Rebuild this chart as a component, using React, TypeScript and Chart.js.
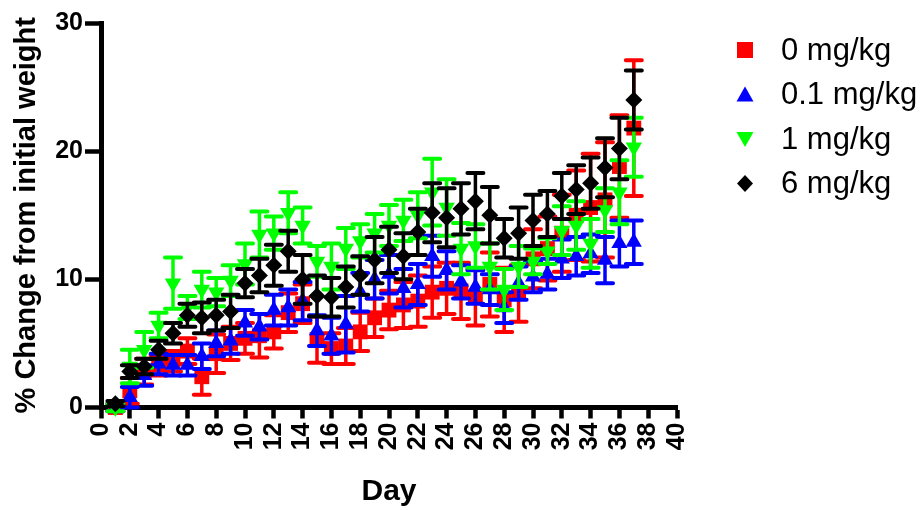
import React, { useEffect, useRef } from "react";
import { Chart, registerables } from "chart.js";

Chart.register(...registerables);

const FONT = "'Liberation Sans', Arial, Helvetica, sans-serif";

const days = [1, 2, 3, 4, 5, 6, 7, 8, 9, 10, 11, 12, 13, 14, 15, 16, 17, 18, 19, 20, 21, 22, 23, 24, 25, 26, 27, 28, 29, 30, 31, 32, 33, 34, 35, 36, 37];

const seriesNames = ["0 mg/kg", "0.1 mg/kg", "1 mg/kg", "6 mg/kg"];
const seriesColors = ["#FF0000", "#0000FF", "#00FF00", "#000000"];

const mean0 = [0.0, 1.3, 2.8, 3.3, 3.6, 4.4, 2.4, 4.2, 5.0, 5.4, 5.6, 5.9, 7.4, 8.1, 5.3, 4.6, 4.8, 5.9, 7.0, 7.6, 8.0, 8.3, 9.0, 9.3, 9.1, 8.6, 9.6, 8.4, 8.9, 11.6, 12.4, 13.6, 15.0, 15.6, 16.2, 18.8, 21.8];
const err0 = [0.3, 1.0, 1.0, 0.8, 0.8, 1.0, 1.4, 1.5, 1.3, 1.2, 1.7, 1.3, 1.5, 1.5, 1.8, 1.2, 1.4, 1.5, 1.5, 1.5, 1.8, 2.0, 2.0, 2.0, 2.2, 2.2, 2.5, 2.5, 2.2, 2.3, 2.5, 3.0, 3.5, 4.2, 4.5, 4.0, 5.3];

const mean01 = [0.0, 0.8, 2.5, 3.4, 3.3, 3.3, 4.0, 5.0, 5.2, 6.6, 6.3, 7.6, 7.8, 8.3, 6.0, 5.6, 6.5, 9.0, 10.0, 10.4, 9.3, 9.6, 11.8, 10.7, 9.8, 9.4, 9.2, 7.8, 9.7, 10.2, 10.4, 11.6, 11.8, 12.0, 11.5, 12.8, 12.9];
const err01 = [0.3, 0.8, 0.8, 0.8, 0.8, 0.8, 1.0, 1.0, 1.0, 1.0, 1.0, 1.2, 1.4, 1.5, 1.2, 1.4, 2.2, 1.5, 1.5, 1.5, 1.5, 1.6, 1.6, 1.5, 1.3, 1.3, 1.2, 1.2, 1.3, 1.2, 1.2, 1.5, 1.5, 1.5, 1.8, 1.8, 1.7];

const mean1 = [0.0, 3.2, 4.5, 6.4, 9.7, 7.8, 9.2, 9.0, 9.9, 11.2, 13.5, 13.6, 15.2, 14.2, 11.4, 11.0, 12.4, 13.0, 13.6, 14.2, 14.6, 15.0, 16.8, 15.6, 12.4, 12.6, 11.0, 9.2, 11.0, 11.4, 12.2, 13.8, 14.2, 12.8, 15.4, 16.8, 20.3];
const err1 = [0.3, 1.3, 1.4, 1.0, 2.0, 0.9, 1.4, 1.1, 1.2, 1.6, 1.8, 1.3, 1.6, 1.4, 1.2, 1.8, 1.6, 1.3, 1.5, 1.6, 1.6, 1.8, 2.6, 2.2, 2.0, 1.7, 1.8, 1.6, 1.6, 1.0, 1.0, 1.9, 1.9, 1.9, 1.7, 2.5, 2.3];

const mean6 = [0.3, 2.8, 3.2, 4.5, 5.8, 7.2, 7.0, 7.2, 7.5, 9.7, 10.3, 11.1, 12.2, 10.0, 8.7, 8.6, 9.4, 10.3, 11.5, 12.3, 11.8, 13.7, 15.2, 14.8, 15.5, 16.1, 15.0, 13.2, 13.6, 14.6, 15.1, 16.5, 17.0, 17.5, 18.7, 20.2, 24.0];
const err6 = [0.2, 0.5, 0.6, 0.7, 0.8, 0.9, 1.2, 1.2, 1.3, 1.1, 1.3, 1.6, 1.6, 1.9, 1.6, 1.5, 1.6, 1.5, 1.8, 1.8, 1.8, 1.8, 2.3, 2.3, 2.0, 2.2, 2.2, 1.5, 2.0, 2.0, 1.8, 1.8, 1.9, 2.0, 2.3, 2.4, 2.3];

const xTitle = "Day";
const yTitle = "% Change from initial weight";

const errorBarPlugin = {
  id: "errorBars",
  beforeDatasetDraw(chart: any, args: any) {
    const ds: any = chart.data.datasets[args.index];
    const errs: number[] = ds.errors;
    if (!errs) return;
    const xs = chart.scales.x;
    const ys = chart.scales.y;
    const ctx = chart.ctx;
    ctx.save();
    ctx.strokeStyle = ds.backgroundColor;
    ds.data.forEach((p: any, i: number) => {
      const px = xs.getPixelForValue(p.x);
      const top = ys.getPixelForValue(p.y + errs[i]);
      const bot = ys.getPixelForValue(p.y - errs[i]);
      ctx.lineWidth = 3.5;
      ctx.lineCap = "butt";
      ctx.beginPath();
      ctx.moveTo(px, top);
      ctx.lineTo(px, bot);
      ctx.stroke();
      ctx.lineWidth = 4;
      ctx.lineCap = "round";
      ctx.beginPath();
      ctx.moveTo(px - 8, top);
      ctx.lineTo(px + 8, top);
      ctx.moveTo(px - 8, bot);
      ctx.lineTo(px + 8, bot);
      ctx.stroke();
    });
    ctx.restore();
  },
};

function drawMarker(ctx: CanvasRenderingContext2D, kind: string, x: number, y: number) {
  ctx.beginPath();
  if (kind === "square") {
    ctx.rect(x - 8, y - 8, 16, 16);
  } else if (kind === "up") {
    ctx.moveTo(x, y - 8);
    ctx.lineTo(x + 8.5, y + 7);
    ctx.lineTo(x - 8.5, y + 7);
    ctx.closePath();
  } else if (kind === "down") {
    ctx.moveTo(x, y + 8);
    ctx.lineTo(x + 8.5, y - 7);
    ctx.lineTo(x - 8.5, y - 7);
    ctx.closePath();
  } else {
    ctx.moveTo(x, y - 8.5);
    ctx.lineTo(x + 8, y);
    ctx.lineTo(x, y + 8.5);
    ctx.lineTo(x - 8, y);
    ctx.closePath();
  }
  ctx.fill();
}

const legendKinds = ["square", "up", "down", "diamond"];

const legendPlugin = {
  id: "sideLegend",
  afterDraw(chart: any) {
    const ctx = chart.ctx;
    const area = chart.chartArea;
    const mx = area.right + 68;
    const tx = area.right + 104;
    const y0 = 50;
    const gap = 44.5;
    ctx.save();
    ctx.font = `31px ${FONT}`;
    ctx.textBaseline = "middle";
    ctx.textAlign = "left";
    seriesNames.forEach((name, i) => {
      const y = y0 + i * gap;
      ctx.fillStyle = seriesColors[i];
      drawMarker(ctx, legendKinds[i], mx, y);
      ctx.fillStyle = "#000";
      ctx.fillText(name, tx, y + 1);
    });
    ctx.restore();
  },
};

function toPoints(values: number[]) {
  return days.map((d, i) => ({ x: d, y: values[i] }));
}

export default function App() {
  const canvasRef = useRef<HTMLCanvasElement | null>(null);

  useEffect(() => {
    if (!canvasRef.current) return;
    const means = [mean0, mean01, mean1, mean6];
    const errs = [err0, err01, err1, err6];
    const styles = ["rect", "triangle", "triangle", "rectRot"];
    const radii = [10.5, 9.3, 9.5, 8.5];
    const rotations = [0, 0, 180, 0];
    const datasets: any[] = means.map((m, i) => ({
      label: seriesNames[i],
      data: toPoints(m),
      errors: errs[i],
      backgroundColor: seriesColors[i],
      borderColor: seriesColors[i],
      pointStyle: styles[i],
      pointRadius: radii[i],
      pointRotation: rotations[i],
      pointBorderWidth: 0,
      showLine: false,
      order: 4 - i,
      clip: false,
    }));

    const tickFont = { family: FONT, size: 25, weight: "bold" as const };
    const chart = new Chart(canvasRef.current, {
      type: "scatter",
      data: { datasets },
      options: {
        animation: false,
        responsive: true,
        maintainAspectRatio: false,
        events: [],
        layout: { padding: { top: 23, right: 243, left: 0, bottom: 0 } },
        plugins: {
          legend: { display: false },
          tooltip: { enabled: false },
        },
        scales: {
          x: {
            type: "linear",
            min: 0,
            max: 40,
            ticks: {
              stepSize: 2,
              minRotation: 90,
              maxRotation: 90,
              autoSkip: false,
              color: "#000",
              font: tickFont,
              padding: 4,
            },
            grid: {
              display: true,
              drawOnChartArea: false,
              drawTicks: true,
              tickLength: 11,
              tickWidth: 4.5,
              tickColor: "#000",
            },
            border: { display: true, color: "#000", width: 5 },
            title: {
              display: true,
              text: xTitle,
              color: "#000",
              font: { family: FONT, size: 30, weight: "bold" },
              padding: { top: 0, bottom: 0 },
            },
            afterFit: (s: any) => {
              s.height = 102.5;
            },
          },
          y: {
            type: "linear",
            min: 0,
            max: 30,
            ticks: {
              stepSize: 10,
              color: "#000",
              font: tickFont,
              padding: 2,
            },
            grid: {
              display: true,
              drawOnChartArea: false,
              drawTicks: true,
              tickLength: 16,
              tickWidth: 4.5,
              tickColor: "#000",
            },
            border: { display: true, color: "#000", width: 5 },
            title: {
              display: true,
              text: yTitle,
              color: "#000",
              font: { family: FONT, size: 29, weight: "bold" },
              padding: { top: 10, bottom: 0 },
            },
            afterFit: (s: any) => {
              s.width = 101;
            },
          },
        },
      } as any,
      plugins: [errorBarPlugin, legendPlugin],
    });
    return () => chart.destroy();
  }, []);

  return (
    <div style={{ position: "fixed", left: 0, top: 0, width: 920, height: 510, background: "#fff" }}>
      <canvas ref={canvasRef} />
    </div>
  );
}
